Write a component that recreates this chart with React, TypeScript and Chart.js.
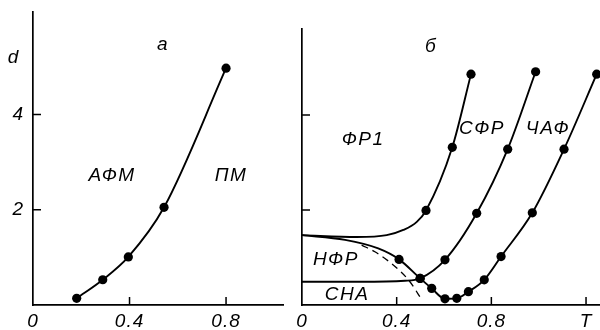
import React, { useEffect, useRef } from 'react';
import { Chart, registerables } from 'chart.js';
Chart.register(...registerables);

// ---------- Panel а: АФМ / ПМ boundary ----------
const aT = [0.181, 0.289, 0.395, 0.543, 0.8];
const aD = [0.14, 0.53, 1.01, 2.05, 4.97];

// ---------- Panel б ----------
// ФР1 boundary (smooth part, then measured points)
const fr1LineT = [0, 0.231, 0.358, 0.428, 0.485];
const fr1LineD = [1.47, 1.43, 1.47, 1.58, 1.75];
const fr1DotT = [0.524, 0.635, 0.714];
const fr1DotD = [1.99, 3.32, 4.86];

// НФР / ЧАФ boundary
const chafLineT = [0, 0.182, 0.322];
const chafLineD = [1.47, 1.37, 1.19];
const chafDotT = [0.41, 0.499, 0.548, 0.604, 0.654, 0.703, 0.77, 0.841, 0.973, 1.107, 1.245];
const chafDotD = [0.96, 0.56, 0.35, 0.13, 0.14, 0.28, 0.53, 1.02, 1.94, 3.28, 4.86];

// СНА / СФР boundary
const sfrLineT = [0, 0.245, 0.435];
const sfrLineD = [0.49, 0.49, 0.51];
const sfrDotT = [0.499, 0.604, 0.738, 0.869, 0.987];
const sfrDotD = [0.56, 0.95, 1.93, 3.28, 4.91];

// dashed curve
const dashT = [0.252, 0.308, 0.393, 0.456, 0.506];
const dashD = [1.26, 1.12, 0.81, 0.49, 0.11];

// ticks
const xTicksA = [0, 0.4, 0.8];
const xTickLabelsA = ['0', '0.4', '0.8'];
const xTicksB = [0, 0.4, 0.8, 1.2];
const xTickLabelsB = ['0', '0.4', '0.8', 'T'];
const yTicks = [2, 4];
const yTickLabelsA = ['2', '4'];

// region labels
const labelTextA = ['а', 'АФМ', 'ПМ'];
const labelTA = [0.535, 0.323, 0.817];
const labelDA = [5.46, 2.71, 2.71];
const labelTextB = ['б', 'ФР1', 'СФР', 'ЧАФ', 'НФР', 'СНА'];
const labelTB = [0.541, 0.254, 0.756, 1.035, 0.139, 0.186];
const labelDB = [5.43, 3.47, 3.71, 3.71, 0.95, 0.21];

const FONT_FAMILY = "'Liberation Sans', 'DejaVu Sans', sans-serif";
const FONT = { family: FONT_FAMILY, size: 19, style: 'italic' as const, weight: 'normal' as const };

const zip = (t: number[], d: number[]) => t.map((v, i) => ({ x: v, y: d[i] }));

function lineDs(pts: { x: number; y: number }[], dashed = false) {
  return {
    data: pts,
    showLine: true,
    borderColor: '#000',
    borderWidth: dashed ? 1.3 : 1.9,
    borderDash: dashed ? [7, 5] : [],
    pointRadius: 0,
    cubicInterpolationMode: 'monotone' as const,
    fill: false,
    clip: false as const,
  };
}
function dotDs(pts: { x: number; y: number }[]) {
  return {
    data: pts,
    showLine: false,
    pointRadius: 4.6,
    pointBackgroundColor: '#000',
    pointBorderColor: '#000',
    pointBorderWidth: 0,
    clip: false as const,
  };
}

type PanelCfg = {
  xMax: number;
  yMax: number;
  top: number;
  right: number;
  yWidth: number;
  xTicks: number[];
  xLabels: string[];
  yLabels: string[] | null;
  texts: string[];
  textT: number[];
  textD: number[];
  title: string | null;
};

function decorPlugin(cfg: PanelCfg) {
  return {
    id: 'decor',
    beforeDraw(chart: any) {
      try {
        chart.ctx.letterSpacing = '1px';
      } catch (e) {}
    },
    afterDraw(chart: any) {
      const { ctx, chartArea } = chart;
      const xs = chart.scales.x;
      const ys = chart.scales.y;
      ctx.save();
      ctx.strokeStyle = '#000';
      ctx.lineWidth = 1.5;
      ctx.beginPath();
      xs.ticks.forEach((t: any) => {
        if (t.value === 0) return;
        const px = xs.getPixelForValue(t.value);
        ctx.moveTo(px, chartArea.bottom);
        ctx.lineTo(px, chartArea.bottom - 8);
      });
      ys.ticks.forEach((t: any) => {
        const py = ys.getPixelForValue(t.value);
        ctx.moveTo(chartArea.left, py);
        ctx.lineTo(chartArea.left + 8, py);
      });
      ctx.stroke();
      ctx.fillStyle = '#000';
      ctx.font = `italic 19px ${FONT_FAMILY}`;
      ctx.letterSpacing = '1.5px';
      ctx.textAlign = 'center';
      ctx.textBaseline = 'middle';
      cfg.texts.forEach((s, i) => {
        ctx.fillText(s, xs.getPixelForValue(cfg.textT[i]) + 1, ys.getPixelForValue(cfg.textD[i]));
      });
      if (cfg.title) {
        ctx.letterSpacing = '0px';
        ctx.fillText(cfg.title, chartArea.left - 20, ys.getPixelForValue(5.19));
      }
      ctx.restore();
    },
  };
}

function makeConfig(cfg: PanelCfg, datasets: any[]) {
  return {
    type: 'scatter' as const,
    data: { datasets },
    plugins: [decorPlugin(cfg)],
    options: {
      responsive: false,
      animation: false as const,
      events: [],
      layout: { autoPadding: false, padding: { top: cfg.top, right: cfg.right, left: 0, bottom: 0 } },
      plugins: { legend: { display: false }, tooltip: { enabled: false } },
      scales: {
        x: {
          type: 'linear' as const,
          min: 0,
          max: cfg.xMax,
          afterBuildTicks: (s: any) => {
            s.ticks = cfg.xTicks.map((v) => ({ value: v }));
          },
          afterFit: (s: any) => {
            s.height = 25;
            s.paddingLeft = 0;
            s.paddingRight = 0;
          },
          grid: { display: true, drawOnChartArea: false, drawTicks: false },
          border: { display: true, color: '#000', width: 1.7 },
          ticks: {
            padding: 5,
            color: '#000',
            font: FONT,
            maxRotation: 0,
            autoSkip: false,
            callback: (v: number) => {
              const i = cfg.xTicks.findIndex((t) => Math.abs(t - v) < 1e-6);
              return i >= 0 ? cfg.xLabels[i] : '';
            },
          },
        },
        y: {
          type: 'linear' as const,
          min: 0,
          max: cfg.yMax,
          afterBuildTicks: (s: any) => {
            s.ticks = yTicks.map((v) => ({ value: v }));
          },
          afterFit: (s: any) => {
            s.width = cfg.yWidth;
            s.paddingTop = 0;
            s.paddingBottom = 0;
          },
          grid: { display: true, drawOnChartArea: false, drawTicks: false },
          border: { display: true, color: '#000', width: 1.7 },
          ticks: {
            display: !!cfg.yLabels,
            padding: 9,
            color: '#000',
            font: FONT,
            callback: (v: number) => {
              const i = yTicks.findIndex((t) => Math.abs(t - v) < 1e-6);
              return cfg.yLabels && i >= 0 ? cfg.yLabels[i] : '';
            },
          },
        },
      },
    },
  };
}

const cfgA: PanelCfg = {
  xMax: 1.036,
  yMax: 6.15,
  top: 12,
  right: 7,
  yWidth: 33,
  xTicks: xTicksA,
  xLabels: xTickLabelsA,
  yLabels: yTickLabelsA,
  texts: labelTextA,
  textT: labelTA,
  textD: labelDA,
  title: 'd',
};

const cfgB: PanelCfg = {
  xMax: 1.259,
  yMax: 5.81,
  top: 29,
  right: 0,
  yWidth: 12,
  xTicks: xTicksB,
  xLabels: xTickLabelsB,
  yLabels: null,
  texts: labelTextB,
  textT: labelTB,
  textD: labelDB,
  title: null,
};

function Panel({ cfg, datasets, left, width }: { cfg: PanelCfg; datasets: () => any[]; left: number; width: number }) {
  const ref = useRef<HTMLCanvasElement>(null);
  useEffect(() => {
    if (!ref.current) return;
    const chart = new Chart(ref.current, makeConfig(cfg, datasets()) as any);
    return () => chart.destroy();
  }, []);
  return (
    <div style={{ position: 'absolute', left, top: 0, width, height: 330 }}>
      <canvas ref={ref} width={width} height={330} style={{ width, height: 330, display: 'block' }} />
    </div>
  );
}

const datasetsA = () => [lineDs(zip(aT, aD)), dotDs(zip(aT, aD))];

const datasetsB = () => [
  lineDs(zip([...fr1LineT, ...fr1DotT], [...fr1LineD, ...fr1DotD])),
  lineDs(zip([...chafLineT, ...chafDotT], [...chafLineD, ...chafDotD])),
  lineDs(zip([...sfrLineT, ...sfrDotT], [...sfrLineD, ...sfrDotD])),
  lineDs(zip(dashT, dashD), true),
  dotDs(zip(fr1DotT, fr1DotD)),
  dotDs(zip(chafDotT, chafDotD)),
  dotDs(zip(sfrDotT, sfrDotD)),
];

export default function App() {
  return (
    <div style={{ position: 'absolute', left: 0, top: 0, width: 600, height: 330, background: '#fff', overflow: 'hidden' }}>
      <Panel cfg={cfgA} datasets={datasetsA} left={0} width={290} />
      <Panel cfg={cfgB} datasets={datasetsB} left={290} width={310} />
    </div>
  );
}
